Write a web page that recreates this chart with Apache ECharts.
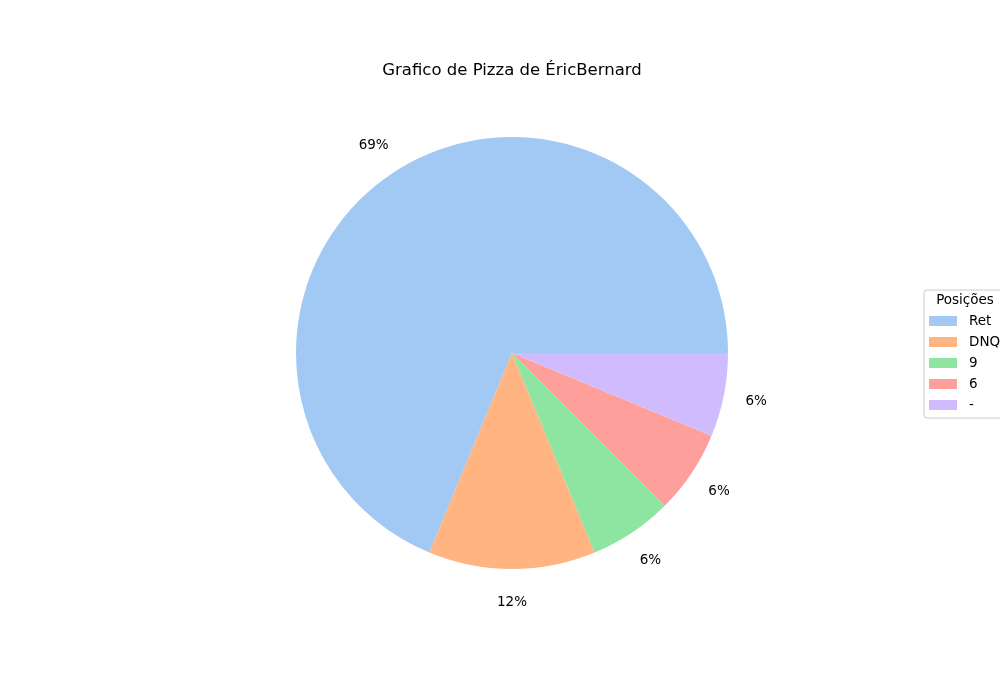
<!DOCTYPE html>
<html>
<head>
<meta charset="utf-8">
<script src="https://cdn.jsdelivr.net/npm/echarts@6/dist/echarts.min.js"></script>
<style>html,body{margin:0;padding:0;background:#fff}#c{width:1000px;height:700px}</style>
</head>
<body>
<div id="c"></div>
<script>
const categories = ['Ret', 'DNQ', '9', '6', '-'];
const counts = [11, 2, 1, 1, 1];
const colors = ['#a1c9f4', '#ffb482', '#8de5a1', '#ff9f9b', '#d0bbff'];
const titleText = 'Grafico de Pizza de ÉricBernard';
const legendTitle = 'Posições';

const total = counts.reduce((a, b) => a + b, 0);
const fmtPct = v => {
  const p = v / total * 100;
  // python-style round half to even
  const f = Math.floor(p);
  let r = Math.round(p);
  if (Math.abs(p - f - 0.5) < 1e-9) r = (f % 2 === 0) ? f : f + 1;
  return r + '%';
};
const data = categories.map((c, i) => ({ name: c, value: counts[i], itemStyle: { color: colors[i] } }));
const font = 'DejaVu Sans';

const chart = echarts.init(document.getElementById('c'), null, { renderer: 'canvas' });
chart.setOption({
  animation: false,
  backgroundColor: '#ffffff',
  title: [
    { text: titleText, left: 512, top: 62, textAlign: 'center', padding: 0,
      textStyle: { fontFamily: font, fontSize: 16.5, fontWeight: 'normal', color: '#000' } },
    { text: legendTitle, left: 965, top: 293, textAlign: 'center', padding: 0,
      textStyle: { fontFamily: font, fontSize: 13.5, fontWeight: 'normal', color: '#000' } }
  ],
  legend: {
    orient: 'vertical', left: 924, top: 290,
    padding: [24, 30, 6, 5],
    data: categories,
    itemWidth: 28, itemHeight: 10, itemGap: 7,
    icon: 'rect',
    borderColor: '#cccccc', borderWidth: 1, borderRadius: 3,
    backgroundColor: 'rgba(255,255,255,0.8)',
    textStyle: { fontFamily: font, fontSize: 13.5, color: '#000', padding: [0, 0, 0, 7] },
    selectedMode: false
  },
  series: [
    {
      type: 'pie', center: [512, 353], radius: [0, 216],
      startAngle: 0, clockwise: false,
      data: data, label: { show: false }, labelLine: { show: false },
      emphasis: { disabled: true }, silent: true
    },
    {
      type: 'pie', center: [512, 353], radius: [241, 251],
      startAngle: 0, clockwise: false,
      data: categories.map((c, i) => ({ name: c, value: counts[i], itemStyle: { color: 'rgba(0,0,0,0)' } })),
      label: { show: true, position: 'inside', rotate: 0,
        formatter: p => fmtPct(p.value),
        fontFamily: font, fontSize: 13.5, color: '#000' },
      labelLine: { show: false },
      emphasis: { disabled: true }, silent: true
    }
  ]
});
</script>
</body>
</html>
